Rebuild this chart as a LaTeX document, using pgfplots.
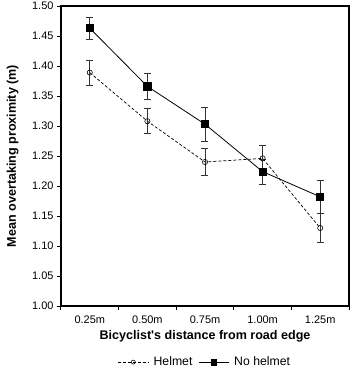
\documentclass[border=0pt]{standalone}
\usepackage{pgfplots}
\pgfplotsset{compat=1.18}
\usepackage{pgfplotstable}
\usepackage{fontspec}
\setmainfont{Liberation Sans}

\pgfplotstableread{
x y e
1 1.389 0.021
2 1.308 0.021
3 1.240 0.022
4 1.246 0.021
5 1.130 0.024
}\helmet
\pgfplotstableread{
x y e
1 1.463 0.018
2 1.366 0.022
3 1.303 0.028
4 1.224 0.021
5 1.182 0.028
}\nohelmet

\begin{document}
\begin{tikzpicture}[x=1bp,y=1bp]
\useasboundingbox (-61,-73) rectangle (300,306);
\begin{axis}[
  at={(0,0)}, anchor=south west,
  scale only axis, width=288bp, height=300bp,
  xmin=0.5, xmax=5.5, ymin=1, ymax=1.5,
  axis line style={line width=1.3pt},
  xtick={1,2,3,4,5},
  xticklabels={0.25m,0.50m,0.75m,1.00m,1.25m},
  minor xtick={0.5,1.5,2.5,3.5,4.5,5.5},
  major x tick style={draw=none},
  ytick={1,1.05,1.1,1.15,1.2,1.25,1.3,1.35,1.4,1.45,1.5},
  yticklabel style={/pgf/number format/.cd, fixed, fixed zerofill, precision=2},
  /pgf/number format/assume math mode=true,
  tick align=outside, tick pos=left,
  tick style={black, line width=1pt},
  major tick length=4bp, minor tick length=4bp,
  font=\fontsize{11}{13}\selectfont,
  xticklabel style={yshift=-2bp},
  xlabel={\bfseries Bicyclist\textquotesingle s distance from road edge},
  ylabel={\bfseries Mean overtaking proximity (m)},
  xlabel style={at={(axis description cs:0.5,-0.1)}, anchor=center, font=\fontsize{12.6}{14}\selectfont},
  ylabel style={at={(axis description cs:-0.168,0.5)}, anchor=center, font=\fontsize{12.6}{14}\selectfont},
  legend style={at={(axis description cs:0.5,-0.187)}, anchor=center, draw=none, fill=none,
    legend columns=2, font=\fontsize{12.3}{14}\selectfont,
    /tikz/every odd column/.append style={column sep=3bp},
    /tikz/every even column/.append style={column sep=4bp}},
  legend cell align=left,
  legend image code/.code={\draw[mark repeat=2,mark phase=2, every mark/.append style={scale=0.78}] plot coordinates {(0bp,0bp) (15bp,0bp) (30bp,0bp)};},
]
\addplot[black, densely dashed, line width=0.7pt, mark=o, mark size=2.6bp, mark options={solid, fill=white, line width=0.6pt},
  error bars/.cd, y dir=both, y explicit,
  error bar style={solid, black!80, line width=0.8pt},
  error mark options={rotate=90, mark size=3.5bp, black!80, line width=0.8pt}]
  table[x=x, y=y, y error=e] {\helmet};
\addlegendentry{Helmet}
\addplot[black, solid, line width=0.8pt, mark=square*, mark size=3.6bp, mark options={fill=black},
  error bars/.cd, y dir=both, y explicit,
  error bar style={solid, black!80, line width=0.8pt},
  error mark options={rotate=90, mark size=3.5bp, black!80, line width=0.8pt}]
  table[x=x, y=y, y error=e] {\nohelmet};
\addlegendentry{No helmet}
\end{axis}
\end{tikzpicture}
\end{document}
